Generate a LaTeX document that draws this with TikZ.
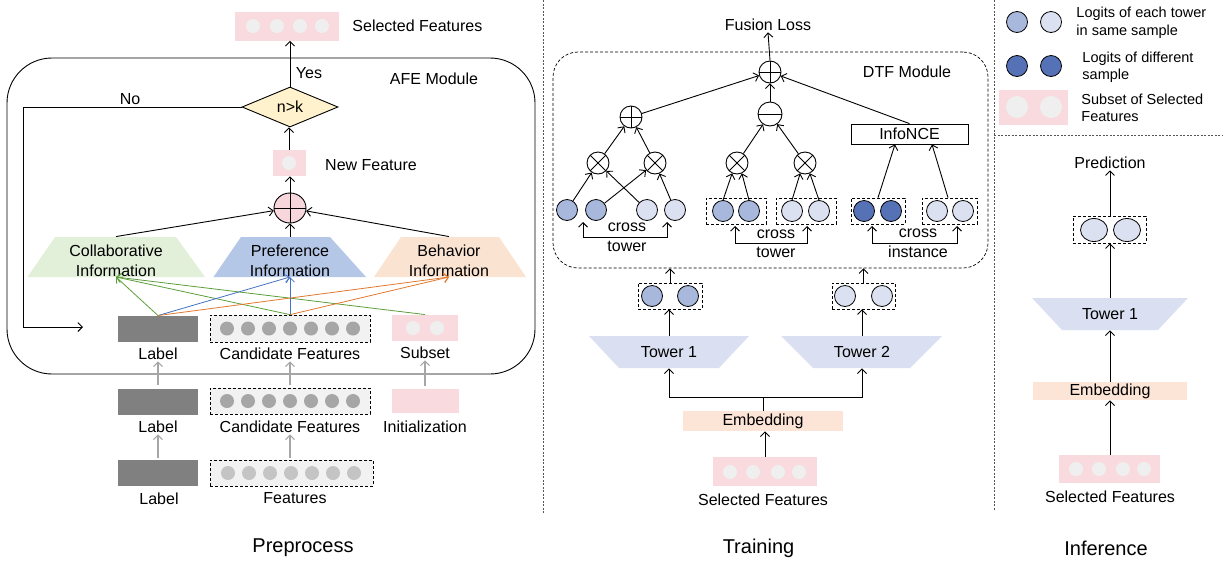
\documentclass[tikz,border=0pt]{standalone}
\usepackage{fontspec}
\setmainfont{Liberation Sans}
\usetikzlibrary{shapes.geometric,arrows.meta,calc}
\definecolor{pinkbg}{HTML}{F9DADF}
\definecolor{pinkdot}{HTML}{EFEFEF}
\definecolor{labgray}{HTML}{808080}
\definecolor{candfill}{HTML}{F2F2F2}
\definecolor{canddot}{HTML}{A6A6A6}
\definecolor{featdot}{HTML}{C4C4C4}
\definecolor{collabc}{HTML}{E2EFD9}
\definecolor{prefc}{HTML}{B4C7E7}
\definecolor{behavc}{HTML}{FBE3D1}
\definecolor{diamc}{HTML}{FFF2CC}
\definecolor{towerc}{HTML}{DAE0F1}
\definecolor{embc}{HTML}{FCE4D6}
\definecolor{logmed}{HTML}{A8B7DC}
\definecolor{loglight}{HTML}{DCE1F1}
\definecolor{logdark}{HTML}{5672B7}
\definecolor{greenarr}{HTML}{5A9E3A}
\definecolor{bluearr}{HTML}{4472C4}
\definecolor{orangearr}{HTML}{E2782E}
\definecolor{crossp}{HTML}{F8D7DC}
\definecolor{garrc}{HTML}{A6A6A6}
\definecolor{divc}{HTML}{555555}
\begin{document}
\begin{tikzpicture}[x=1pt,y=-1pt,
  line width=0.9pt,
  tip/.tip={Straight Barb[length=4.5pt,width=9pt]},
  arr/.style={-tip, line width=0.9pt},
  barr/.style={tip-tip, line width=0.9pt},
  carr/.style={-tip, line width=0.8pt},
  garr/.style={-tip, line width=1.1pt, draw=garrc},
  txt/.style={font=\fontsize{16}{19.5}\selectfont, inner sep=1pt, align=center},
  legtxt/.style={font=\fontsize{14.5}{17.5}\selectfont, inner sep=0pt, align=left, anchor=west},
  bigtxt/.style={font=\fontsize{20}{24}\selectfont, inner sep=0pt},
  dot/.style={circle, fill=#1, minimum size=14, inner sep=0},
  logit/.style={circle, draw, line width=0.8pt, fill=#1, minimum size=21, inner sep=0},
  dbox/.style={draw, dash pattern=on 3pt off 2pt, line width=0.7pt, inner sep=0},
  plainbox/.style={inner sep=0},
  opbase/.style={circle, draw, line width=0.9pt, minimum size=22, inner sep=0},
  opplus/.style={opbase, path picture={\draw[line width=0.9pt] (path picture bounding box.north) -- (path picture bounding box.south) (path picture bounding box.west) -- (path picture bounding box.east);}},
  optimes/.style={opbase, path picture={\draw[line width=0.9pt] (path picture bounding box.north west) -- (path picture bounding box.south east) (path picture bounding box.south west) -- (path picture bounding box.north east);}},
  opminus/.style={opbase, path picture={\draw[line width=0.9pt] (path picture bounding box.west) -- (path picture bounding box.east);}},
  divider/.style={draw=divc, line width=0.8pt, dash pattern=on 2pt off 1.5pt}
]
\useasboundingbox (0,0) rectangle (1223,563);

% ---------------- dividers ----------------
\draw[divider] (543,0) -- (543,513);
\draw[divider] (994,0) -- (994,510);
\draw[divider] (994,135) -- (1223,135);

% ---------------- Preprocess ----------------
\node[plainbox, fill=pinkbg, minimum width=104, minimum height=29] (selA) at (287,26) {};
\foreach \x [count=\i] in {253,277,300,322} \node[dot=pinkdot] (selAd\i) at (\x,26) {};
\node[txt, anchor=west] (selAt) at (351,26) {Selected Features};

\node[draw, line width=0.9pt, rounded corners=45, minimum width=528, minimum height=316, inner sep=0] (afe) at (271,216) {};
\node[txt] (afet) at (434,79) {AFE Module};

\node[txt, diamond, draw, fill=diamc, line width=0.9pt, minimum width=96, minimum height=40, inner sep=0] (dia) at (290,107) {n>k};
\node[txt] (yes) at (309,73) {Yes};
\node[txt] (no) at (130,99) {No};
\coordinate (nocorner) at (23,107);
\coordinate (noend) at (83,327);
\draw[arr] (dia.west) -- (nocorner) |- (noend);
\draw[arr] (dia.north) -- (dia.north |- selA.south);

\node[plainbox, fill=pinkbg, minimum width=33, minimum height=26] (nf) at (289,163) {};
\node[dot=pinkdot] (nfd) at (289,163) {};
\node[txt] (nft) at (371,165) {New Feature};
\draw[arr] (nf.north) -- (nf.north |- dia.south);

\node[ellipse, draw, fill=crossp, line width=0.9pt, minimum width=32, minimum height=30, inner sep=0,
  path picture={\draw[line width=0.9pt] (path picture bounding box.north) -- (path picture bounding box.south) (path picture bounding box.west) -- (path picture bounding box.east);}] (cp) at (290,208) {};
\draw[arr] (cp.north) -- (cp.north |- nf.south);

\fill[collabc] (27.5,277) -- (205,277) -- (176,237) -- (55,237) -- cycle;
\node[txt, minimum height=48] (collab) at (116,261) {Collaborative\\Information};
\fill[prefc] (213.5,277) -- (366,277) -- (330,237) -- (241,237) -- cycle;
\node[txt, minimum height=48] (pref) at (290,261) {Preference\\Information};
\fill[behavc] (374,277) -- (526,277) -- (499,237) -- (401,237) -- cycle;
\node[txt, minimum height=48] (behav) at (449,261) {Behavior\\Information};
\coordinate (collabin) at (116,277);
\coordinate (prefin) at (290,277);
\coordinate (behavin) at (449,277);
\draw[arr] (collab.north) -- (cp);
\draw[arr] (pref.north) -- (cp.south);
\draw[arr] (behav.north) -- (cp);

% row 1
\node[plainbox, fill=labgray, minimum width=80, minimum height=26] (lab1) at (158,329) {};
\node[dbox, fill=candfill, minimum width=160, minimum height=27] (cand1) at (290,328.5) {};
\foreach \x [count=\i] in {227,248,269,290,311,332,353} \node[dot=canddot] (c1d\i) at (\x,328.5) {};
\node[plainbox, fill=pinkbg, minimum width=66, minimum height=26] (sub) at (425,328) {};
\node[dot=pinkdot] (subd1) at (413,328) {};
\node[dot=pinkdot] (subd2) at (437,328) {};
\node[txt] (tlab1) at (158,354) {Label};
\node[txt] (tcand1) at (290,354) {Candidate Features};
\node[txt] (tsub) at (425,353) {Subset};

\draw[carr, greenarr] (lab1.north) -- (collabin);
\draw[carr, greenarr] (cand1.north) -- (collabin);
\draw[carr, greenarr] (sub.north) -- (collabin);
\draw[carr, bluearr] (lab1.north) -- (prefin);
\draw[carr, bluearr] (cand1.north) -- (prefin);
\draw[carr, orangearr] (lab1.north) -- (behavin);
\draw[carr, orangearr] (cand1.north) -- (behavin);

% row 2
\node[plainbox, fill=labgray, minimum width=80, minimum height=26] (lab2) at (158,401.5) {};
\node[dbox, fill=candfill, minimum width=160, minimum height=26] (cand2) at (290,401) {};
\foreach \x [count=\i] in {227,248,269,290,311,332,353} \node[dot=canddot] (c2d\i) at (\x,401) {};
\node[plainbox, fill=pinkbg, minimum width=67, minimum height=24] (init) at (425,401) {};
\node[txt] (tlab2) at (158,427) {Label};
\node[txt] (tcand2) at (290,427) {Candidate Features};
\node[txt] (tinit) at (425,427) {Initialization};

% row 3
\node[plainbox, fill=labgray, minimum width=80, minimum height=26] (lab3) at (158,473) {};
\node[dbox, fill=candfill, minimum width=163, minimum height=26] (feat) at (291.5,473) {};
\foreach \x [count=\i] in {228,249,270,291,312,333,354} \node[dot=featdot] (c3d\i) at (\x,473) {};
\node[txt] (tlab3) at (159,499) {Label};
\node[txt] (tfeat) at (295,498) {Features};

\draw[garr] ([yshift=3]lab2.north) -- (tlab1.south);
\draw[garr] ([yshift=3]cand2.north) -- (tcand1.south);
\draw[garr] ([yshift=3]init.north) -- (tsub.south);
\draw[garr] ([yshift=2]lab3.north) -- (tlab2.south);
\draw[garr] ([yshift=2]feat.north -| tcand2.south) -- (tcand2.south);

% ---------------- Training ----------------
\node[txt] (fl) at (768,25) {Fusion Loss};
\node[draw, dash pattern=on 3pt off 2pt, line width=0.7pt, rounded corners=25, minimum width=435, minimum height=216, inner sep=0] (dtf) at (770.5,160) {};
\node[txt] (dtft) at (907,72) {DTF Module};

\node[opplus] (tp) at (770,72) {};
\draw[arr] (tp.north) -- (fl.south);
\node[opplus] (lp) at (631,117) {};
\node[opminus, minimum size=24] (mn) at (770,114) {};
\node[txt, draw, line width=0.8pt, minimum width=117, minimum height=20, inner sep=0] (nce) at (909.5,134) {InfoNCE};
\draw[arr] (lp) -- (tp);
\draw[arr] (mn.north) -- (tp.south);
\draw[arr] (nce.north) -- (tp);

\node[optimes] (o1) at (598,163) {};
\node[optimes] (o2) at (655,163) {};
\node[optimes] (o3) at (737,163) {};
\node[optimes] (o4) at (805,163) {};
\draw[arr] (o1) -- (lp);
\draw[arr] (o2) -- (lp);
\draw[arr] (o3) -- (mn);
\draw[arr] (o4) -- (mn);

\node[logit=logmed] (l1) at (567,210) {};
\node[logit=logmed] (l2) at (596,210) {};
\node[logit=loglight] (l3) at (647,210) {};
\node[logit=loglight] (l4) at (675,210) {};
\draw[arr] (l1) -- (o1);
\draw[arr] (l3) -- (o1);
\draw[arr] (l2) -- (o2);
\draw[arr] (l4) -- (o2);

\node[dbox, minimum width=60, minimum height=26] (b1) at (736,211) {};
\node[logit=logmed] (m1) at (723,211) {};
\node[logit=logmed] (m2) at (749,211) {};
\node[dbox, minimum width=60, minimum height=26] (b2) at (806,211) {};
\node[logit=loglight] (m3) at (792,211) {};
\node[logit=loglight] (m4) at (819,211) {};
\draw[arr] (m1.north) -- (o3.-115);
\draw[arr] (m2.north) -- (o3.-65);
\draw[arr] (m3.north) -- (o4.-115);
\draw[arr] (m4.north) -- (o4.-65);

\node[dbox, minimum width=54, minimum height=26] (b3) at (878,211) {};
\node[logit=logdark] (d1) at (864,211) {};
\node[logit=logdark] (d2) at (891,211) {};
\node[dbox, minimum width=55, minimum height=26] (b4) at (949.5,211) {};
\node[logit=loglight] (r1) at (937,211) {};
\node[logit=loglight] (r2) at (963,211) {};
\draw[arr] (b3.north) -- ([xshift=-14.5]nce.south);
\draw[arr] ([xshift=-1.5]b4.north) -- ([xshift=22.5]nce.south);

\coordinate (bk1a) at (583,222);
\coordinate (bk1b) at (667,222);
\draw[barr] (bk1a) -- ++(0,15) -| (bk1b);
\node[txt] (ct1) at (627,237.5) {cross\\tower};
\coordinate (bk2a) at (735,226);
\coordinate (bk2b) at (807,226);
\draw[barr] (bk2a) -- ++(0,17) -| (bk2b);
\node[txt] (ct2) at (776,244) {cross\\tower};
\coordinate (bk3a) at (872,226);
\coordinate (bk3b) at (957,226);
\draw[barr] (bk3a) -- ++(0,17) -| (bk3b);
\node[txt] (ct3) at (918,243.5) {cross\\instance};

\node[dbox, minimum width=64, minimum height=26] (tb1) at (670,296) {};
\node[logit=logmed] (tb1a) at (652,296) {};
\node[logit=logmed] (tb1b) at (688,296) {};
\node[dbox, minimum width=63, minimum height=26] (tb2) at (863.5,296) {};
\node[logit=loglight] (tb2a) at (845,296) {};
\node[logit=loglight] (tb2b) at (882,296) {};
\draw[arr] (tb1.north) -- (tb1.north |- dtf.south);
\draw[arr] (tb2.north) -- (tb2.north |- dtf.south);

\fill[towerc] (589,336) -- (749,336) -- (719,368) -- (619,368) -- cycle;
\node[txt, minimum height=32] (tw1) at (669,352) {Tower 1};
\fill[towerc] (781,336) -- (942,336) -- (910,368) -- (813,368) -- cycle;
\node[txt, minimum height=32] (tw2) at (862,352) {Tower 2};
\draw[arr] (tw1.north) -- (tw1.north |- tb1.south);
\draw[arr] (tw2.north) -- (tw2.north |- tb2.south);

\node[txt, fill=embc, minimum width=160, minimum height=20, inner sep=0] (emb) at (763,421) {Embedding};
\coordinate (embj) at (763,397);
\draw (emb.north) -- (embj);
\draw[arr] (embj) -| (tw1.south);
\draw[arr] (embj) -| (tw2.south);

\node[plainbox, fill=pinkbg, minimum width=104, minimum height=29] (selB) at (765,471.5) {};
\foreach \x [count=\i] in {730,753,778,799} \node[dot=pinkdot] (selBd\i) at (\x,472) {};
\node[txt] (selBt) at (763,500) {Selected Features};
\draw[arr] (selB.north) -- (selB.north |- emb.south);

% ---------------- Legend ----------------
\node[logit=logmed] (lg1) at (1017,22) {};
\node[logit=loglight] (lg2) at (1051,22) {};
\node[legtxt] (lg1t) at (1076,22.5) {Logits of each tower\\in same sample};
\node[logit=logdark] (lg3) at (1017,66) {};
\node[logit=logdark] (lg4) at (1051,66) {};
\node[legtxt] (lg3t) at (1082,67) {Logits of different\\sample};
\node[plainbox, fill=pinkbg, minimum width=69, minimum height=35] (lgp) at (1033.5,107.5) {};
\node[dot=pinkdot, minimum size=22] (lgp1) at (1017,107) {};
\node[dot=pinkdot, minimum size=22] (lgp2) at (1051,107) {};
\node[legtxt] (lgpt) at (1081,108) {Subset of Selected\\Features};

% ---------------- Inference ----------------
\node[txt] (pred) at (1110,163) {Prediction};
\node[dbox, minimum width=73, minimum height=27] (ib) at (1109.5,229.5) {};
\node[ellipse, draw, line width=0.8pt, fill=loglight, minimum width=27, minimum height=23, inner sep=0] (ie1) at (1094,230) {};
\node[ellipse, draw, line width=0.8pt, fill=loglight, minimum width=27, minimum height=23, inner sep=0] (ie2) at (1127,230) {};
\draw[arr] (ib.north -| pred.south) -- (pred.south);

\fill[towerc] (1032,298) -- (1188,298) -- (1158,330) -- (1062,330) -- cycle;
\node[txt, minimum height=32] (itw) at (1110,314) {Tower 1};
\draw[arr] (itw.north) -- (ib.south -| itw.north);

\node[txt, fill=embc, minimum width=154, minimum height=18, inner sep=0] (iemb) at (1110,391) {Embedding};
\draw[arr] (iemb.north) -- (itw.south);

\node[plainbox, fill=pinkbg, minimum width=101, minimum height=28] (iselB) at (1109.5,469) {};
\foreach \x [count=\i] in {1076,1099,1123,1144} \node[dot=pinkdot] (iselBd\i) at (\x,469) {};
\node[txt] (iselBt) at (1110,497) {Selected Features};
\draw[arr] (iselB.north -| iemb.south) -- (iemb.south);

% ---------------- Section titles ----------------
\node[bigtxt] (tpre) at (303,548) {Preprocess};
\node[bigtxt] (ttrain) at (758.5,548) {Training};
\node[bigtxt] (tinf) at (1106,548) {Inference};
\end{tikzpicture}
\end{document}
